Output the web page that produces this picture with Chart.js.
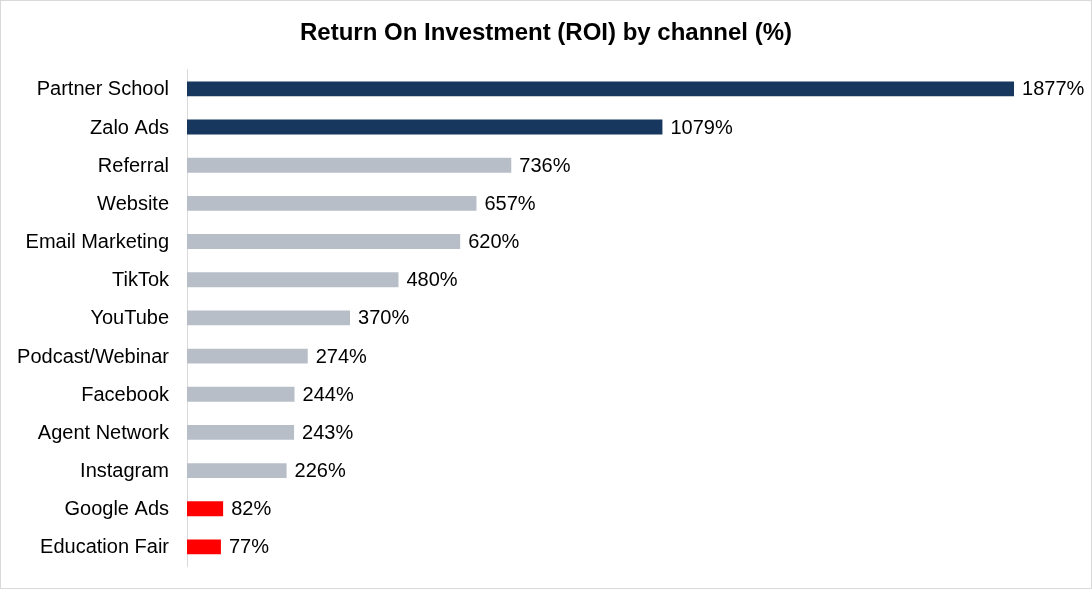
<!DOCTYPE html>
<html><head><meta charset="utf-8">
<script src="https://cdn.jsdelivr.net/npm/chart.js@4/dist/chart.umd.min.js"></script>
<style>html,body{margin:0;padding:0;background:#fff}#wrap{width:1092px;height:589px;position:relative}</style>
</head><body><div id="wrap"><canvas id="c"></canvas></div>
<script>
const categories = ["Partner School","Zalo Ads","Referral","Website","Email Marketing","TikTok","YouTube","Podcast/Webinar","Facebook","Agent Network","Instagram","Google Ads","Education Fair"];
const roiValues = [1877,1079,736,657,620,480,370,274,244,243,226,82,77];
const barColors = ["#17375e","#17375e","#b8bec8","#b8bec8","#b8bec8","#b8bec8","#b8bec8","#b8bec8","#b8bec8","#b8bec8","#b8bec8","#ff0000","#ff0000"];
const chartTitle = "Return On Investment (ROI) by channel (%)";
const axisMax = 2054;

const frame = {id:'frame',
  beforeDraw(ch){const c=ch.ctx;c.save();c.fillStyle='#fff';c.fillRect(0,0,ch.width,ch.height);c.restore();},
  afterDraw(ch){const c=ch.ctx;c.save();c.strokeStyle='#d9d9d9';c.lineWidth=1;c.strokeRect(0.5,0.5,ch.width-1,ch.height-1);c.restore();}};
const valueLabels = {id:'valueLabels', afterDatasetsDraw(ch){
  const c=ch.ctx; const meta=ch.getDatasetMeta(0);
  c.save(); c.font='20px "Liberation Sans", Arial, sans-serif'; c.fillStyle='#000'; c.textBaseline='middle'; c.textAlign='left';
  meta.data.forEach((b,i)=>{c.fillText(roiValues[i]+'%', b.x+8, b.y+1);});
  c.restore();}};

new Chart(document.getElementById('c'),{
  type:'bar',
  data:{labels:categories,datasets:[{data:roiValues,backgroundColor:barColors,barPercentage:0.39,categoryPercentage:1}]},
  options:{indexAxis:'y',responsive:true,maintainAspectRatio:false,animation:false,
    layout:{padding:{left:0,right:0,top:0,bottom:23}},
    plugins:{legend:{display:false},tooltip:{enabled:false},
      title:{display:true,text:chartTitle,color:'#000',font:{family:'"Liberation Sans", Arial, sans-serif',size:24,weight:'bold'},padding:{top:19,bottom:22}}},
    scales:{
      x:{display:false,min:0,max:axisMax},
      y:{afterFit(s){s.width=187;s.paddingTop=0;s.paddingBottom=0;},grid:{display:false,drawTicks:false},border:{display:true,color:'#d9d9d9',width:1},
        ticks:{color:'#000',padding:18,labelOffset:1,font:{family:'"Liberation Sans", Arial, sans-serif',size:20}}}
    }},
  plugins:[frame,valueLabels]
});
</script></body></html>
